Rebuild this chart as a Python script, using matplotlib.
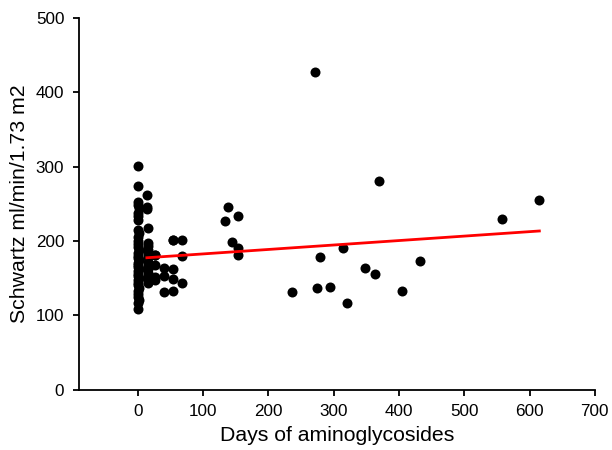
import numpy as np
import matplotlib
matplotlib.use("Agg")
import matplotlib.pyplot as plt

plt.rcParams['font.family'] = ['Liberation Sans', 'DejaVu Sans']

# days of aminoglycosides vs Schwartz eGFR
days_zero = [0, 0, 1, 0, 2, 0, 1, 0, 0, 2, 1, 0, 0, 1, 2, 0, 1, 0, 2, 0, 1, 0,
             2, 0, 1, 0, 2, 0, 1, 0, 2, 0, 1, 0, 2, 0, 0]
gfr_zero = [301, 274, 252, 248, 244, 238, 233, 228, 215, 211, 206, 200, 196,
            192, 188, 184, 180, 177, 174, 171, 168, 165, 162, 159, 156, 153,
            150, 147, 144, 141, 137, 133, 129, 125, 121, 117, 108]

days_low = [14, 14, 14, 15, 15, 15, 15, 15, 15, 15, 15, 15, 15, 15, 15, 15,
            26, 26, 26, 26, 26, 40, 40, 40, 54, 54, 54, 54, 54, 68, 68, 68]
gfr_low = [262, 246, 243, 217, 198, 193, 188, 183, 178, 172, 167, 162, 157,
           152, 148, 143, 181, 168, 152, 148, 181, 164, 153, 131, 202, 162,
           149, 133, 202, 202, 180, 144]

days_high = [134, 139, 145, 153, 153, 153, 237, 272, 274, 279, 294, 314, 320,
             348, 363, 369, 404, 432, 558, 615]
gfr_high = [227, 246, 199, 233, 191, 181, 132, 428, 137, 179, 138, 190, 116,
            164, 155, 281, 133, 173, 229, 255]

# regression line endpoints
fit_days = [14, 615]
fit_gfr = [177.5, 213.5]

days = days_zero + days_low + days_high
gfr = gfr_zero + gfr_low + gfr_high

fig = plt.figure(figsize=(6.12, 4.5), dpi=100)
ax = fig.add_axes([0.129, 0.134, 0.843, 0.826])

ax.plot(days, gfr, 'o', color='black', markersize=7.2, markeredgewidth=0)
ax.plot(fit_days, fit_gfr, '-', color='#ff0000', linewidth=2)

ax.set_xlim(-90, 700)
ax.set_ylim(0, 500)
ax.set_xticks(np.arange(0, 701, 100))
ax.set_yticks(np.arange(0, 501, 100))

ax.spines['top'].set_visible(False)
ax.spines['right'].set_visible(False)
ax.spines['left'].set_linewidth(1.3)
ax.spines['bottom'].set_linewidth(1.3)
ax.tick_params(direction='out', length=4.5, width=1.3, labelsize=12.3, pad=6)

ax.set_xlabel("Days of aminoglycosides", fontsize=15.3, labelpad=5)
ax.set_ylabel("Schwartz ml/min/1.73 m2", fontsize=15.3, labelpad=5)

fig.savefig("out.png", dpi=100)
